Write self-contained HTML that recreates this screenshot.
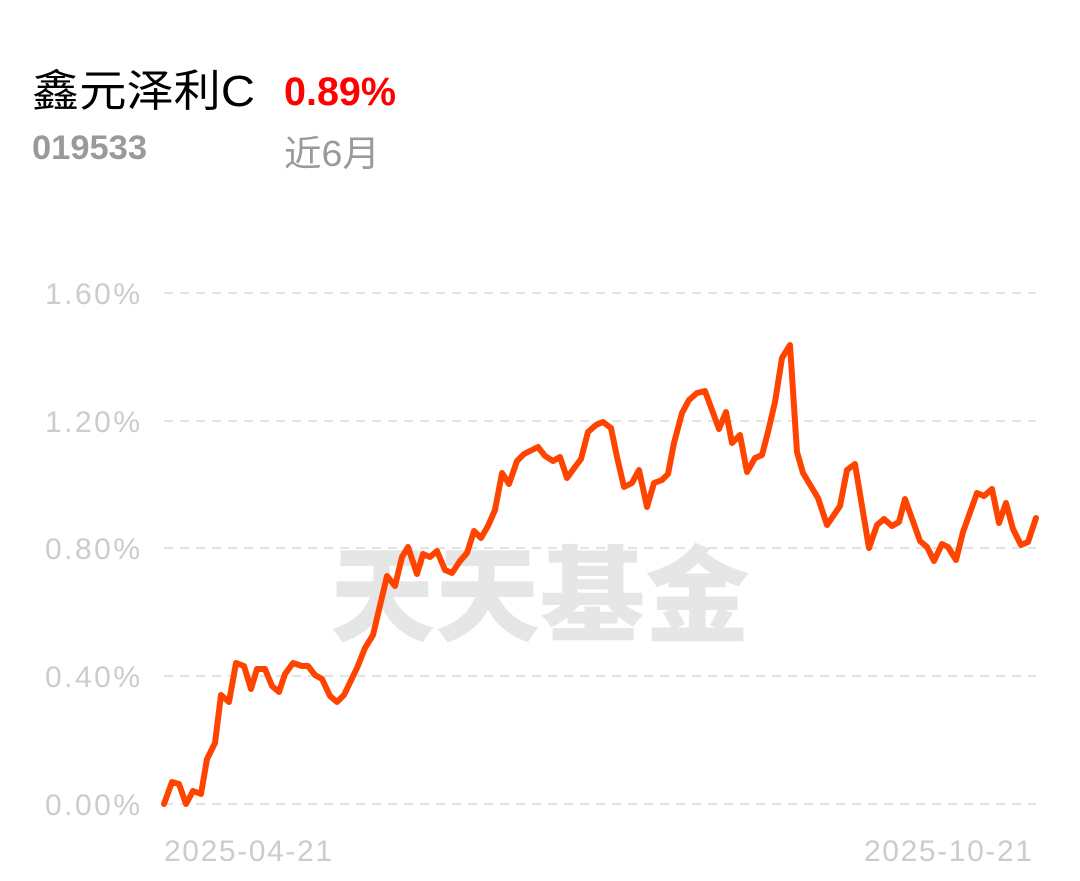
<!DOCTYPE html>
<html><head><meta charset="utf-8"><style>
html,body{margin:0;padding:0;background:#fff;width:1080px;height:881px;overflow:hidden}
svg{display:block}
</style></head><body>
<svg width="1080" height="881" viewBox="0 0 1080 881" xmlns="http://www.w3.org/2000/svg">
<text x="32" y="106" font-family="Liberation Sans, Noto Sans CJK SC, sans-serif" font-size="44" fill="#000" textLength="223" lengthAdjust="spacingAndGlyphs">鑫元泽利C</text>
<text x="284" y="105" font-family="Liberation Sans, Noto Sans CJK SC, sans-serif" font-size="40" font-weight="bold" fill="#ff0000" textLength="112" lengthAdjust="spacingAndGlyphs">0.89%</text>
<text x="32" y="159" font-family="Liberation Sans, Noto Sans CJK SC, sans-serif" font-size="34" font-weight="bold" fill="#9a9a9a" textLength="115" lengthAdjust="spacingAndGlyphs">019533</text>
<text x="284" y="166" font-family="Liberation Sans, Noto Sans CJK SC, sans-serif" font-size="36" fill="#9a9a9a" textLength="96" lengthAdjust="spacingAndGlyphs">近6月</text>
<text x="540" y="633" text-anchor="middle" font-family="Noto Sans CJK SC, sans-serif" font-weight="900" font-size="104" fill="#e6e6e6" textLength="420" lengthAdjust="spacingAndGlyphs">天天基金</text>
<g stroke="#e3e3e3" stroke-width="2" stroke-dasharray="9,7">
<line x1="164" y1="293" x2="1036" y2="293"/>
<line x1="164" y1="421" x2="1036" y2="421"/>
<line x1="164" y1="548" x2="1036" y2="548"/>
<line x1="164" y1="676" x2="1036" y2="676"/>
<line x1="164" y1="804" x2="1036" y2="804"/>
</g>
<g font-family="Liberation Sans, sans-serif" font-size="30" fill="#cccccc" lengthAdjust="spacingAndGlyphs">
<text x="45" y="304" textLength="95">1.60%</text>
<text x="45" y="432" textLength="95">1.20%</text>
<text x="45" y="559" textLength="95">0.80%</text>
<text x="45" y="687" textLength="95">0.40%</text>
<text x="45" y="815" textLength="95">0.00%</text>
<text x="164" y="861" textLength="168">2025-04-21</text>
<text x="864" y="861" textLength="168">2025-10-21</text>
</g>
<polyline fill="none" stroke="#ff4400" stroke-width="6" stroke-linejoin="round" stroke-linecap="round" points="164,804 172,782 179,784 186,804 193,791 201,794 207,759 215,743 221,695 229,702 236,663 244,666 251,689 257,669 265,669 272,686 279,692 285,674 293,663 302,666 308,666 315,675 322,679 330,696 337,702 344,695 357,668 365,648 373,635 387,576 395,586 402,557 408,547 417,574 423,554 430,557 437,551 445,570 452,573 460,561 467,553 474,531 481,538 488,526 495,510 502,473 509,484 517,461 524,454 538,447 545,456 553,461 560,457 567,478 575,467 581,459 588,432 596,425 603,422 611,428 617,457 624,487 632,483 639,470 647,507 654,483 662,480 668,474 674,443 682,413 689,400 697,393 705,391 712,410 719,429 726,412 732,443 740,435 747,472 755,458 762,455 768,432 775,402 782,358 790,345 797,452 803,473 818,498 827,525 840,506 847,470 855,464 869,548 877,525 884,519 892,526 899,522 905,499 920,541 927,547 934,561 942,544 948,547 956,560 963,532 977,493 984,496 992,489 999,523 1006,503 1013,529 1021,545 1028,542 1036,518"/>
</svg>
</body></html>
